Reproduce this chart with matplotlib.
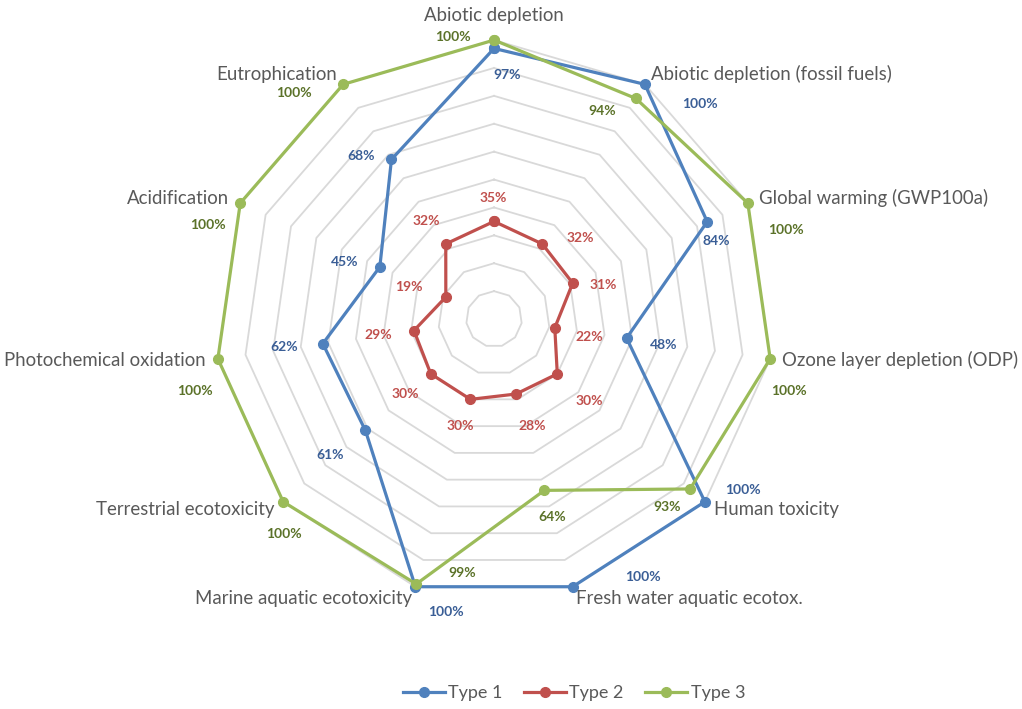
import numpy as np
import matplotlib.pyplot as plt

plt.rcParams['font.family'] = ['Lato', 'DejaVu Sans']

categories = ['Abiotic depletion', 'Abiotic depletion (fossil fuels)', 'Global warming (GWP100a)',
              'Ozone layer depletion (ODP)', 'Human toxicity', 'Fresh water aquatic ecotox.',
              'Marine aquatic ecotoxicity', 'Terrestrial ecotoxicity', 'Photochemical oxidation',
              'Acidification', 'Eutrophication']
type1 = [97, 100, 84, 48, 100, 100, 100, 61, 62, 45, 68]
type2 = [35, 32, 31, 22, 30, 28, 30, 30, 29, 19, 32]
type3 = [100, 94, 100, 100, 93, 64, 99, 100, 100, 100, 100]
series_names = ['Type 1', 'Type 2', 'Type 3']

# data label offsets in pixels (x right, y down)
off1 = [(13, 27), (55, 20), (9, 19), (37, 7), (38, -12), (70, -10), (30, 25), (-35, 25), (-39, 3), (-35, -5), (-30, -3)]
off2 = [(-1, -23), (38, -6), (31, 2), (34, 9), (32, 27), (16, 32), (-10, 27), (-25, 20), (-36, 4), (-37, -10), (-19, -23)]
off3 = [(-41, -3), (-34, 13), (38, 27), (19, 32), (-23, 18), (8, 27), (46, -11), (1, 32), (-23, 32), (-32, 22), (-49, 9)]

line_colors = ['#4F81BD', '#C0504D', '#9BBB59']
label_colors = ['#3A5E96', '#C0504D', '#5B7229']

n = len(categories)
angles = np.arange(n) * 2 * np.pi / n

fig = plt.figure(figsize=(10.22, 7.09), dpi=100)
ax = fig.add_axes([0.2104, 0.1565, 0.546, 0.787], projection='polar')
ax.set_theta_zero_location('N')
ax.set_theta_direction(-1)
ax.set_ylim(0, 100)
ax.grid(False)
ax.spines['polar'].set_visible(False)
ax.set_xticks([])
ax.set_yticks([])
ax.patch.set_alpha(0)

closed = np.append(angles, angles[0])

# polygon rings every 10 %
for lvl in range(10, 101, 10):
    ax.plot(closed, [lvl] * (n + 1), color='#D9D9D9', lw=1.3, zorder=1, clip_on=False)

handles = []
for vals, offs, name, lc, tc in zip([type1, type2, type3], [off1, off2, off3], series_names,
                                    line_colors, label_colors):
    v = np.append(vals, vals[0])
    h, = ax.plot(closed, v, color=lc, lw=2.3, marker='o', markersize=7, label=name,
                 zorder=3, clip_on=False)
    handles.append(h)
    for a, val, (dx, dy) in zip(angles, vals, offs):
        ax.annotate(f'{val}%', (a, val), xytext=(dx, -dy), textcoords='offset pixels',
                    ha='center', va='center', fontsize=10, fontweight='bold', color=tc,
                    annotation_clip=False)

# category names just outside the outer ring
for a, cat in zip(angles, categories):
    s = np.sin(a)
    c = np.cos(a)
    if abs(s) < 0.1:
        ha, va = 'center', 'bottom'
        dx, dy = 0, 16
    else:
        ha = 'left' if s > 0 else 'right'
        va = 'center'
        dx, dy = 12 * s, 12 * c
    ax.annotate(cat, (a, 100), xytext=(dx, dy), textcoords='offset pixels', ha=ha, va=va,
                fontsize=13.4, color='#595959', annotation_clip=False)

fig.legend(handles=handles, loc='center', bbox_to_anchor=(574 / 1022, 16 / 709), ncol=3,
           frameon=False, fontsize=13, labelcolor='#595959', handlelength=2.3,
           columnspacing=1.2, handletextpad=0.2)

fig.savefig('out.png', dpi=100)
